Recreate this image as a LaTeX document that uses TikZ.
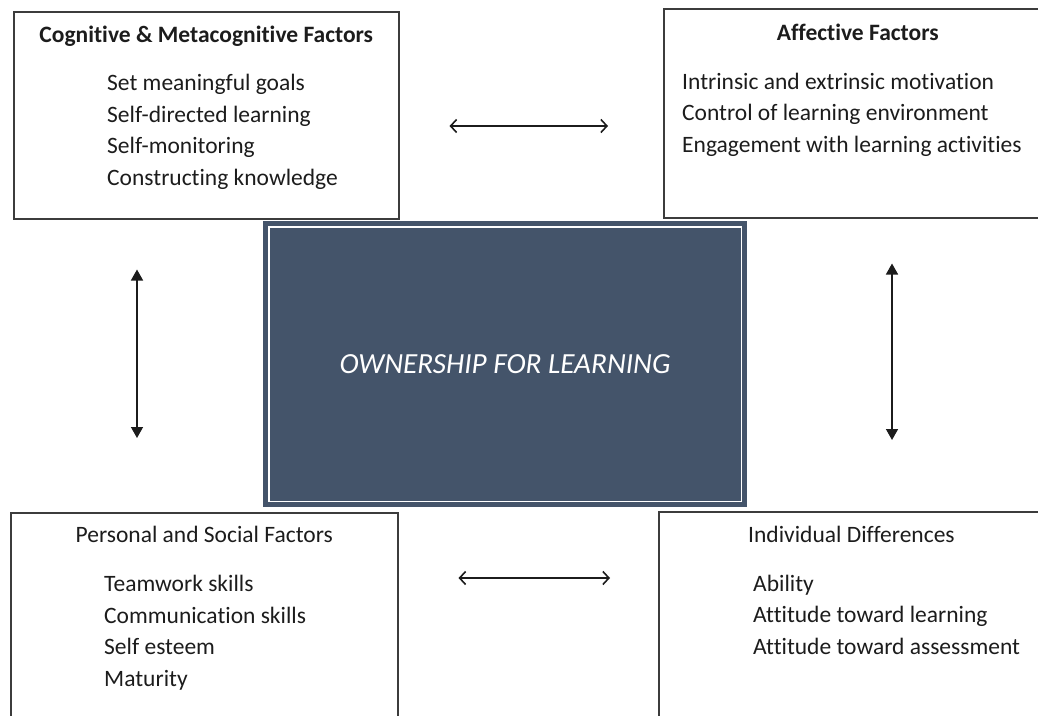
\documentclass[tikz,border=0pt]{standalone}
\usepackage{fontspec}
\setmainfont{Carlito}[Ligatures=NoCommon]
\usepackage{xcolor}
\usepackage{tikz}
\usetikzlibrary{arrows.meta,positioning}

\definecolor{slate}{HTML}{44546A}
\definecolor{ink}{HTML}{1C1C1C}
\definecolor{frame}{HTML}{3C3C3C}

\begin{document}
\begin{tikzpicture}[
  x=1pt, y=-1pt,
  factor/.style={draw=frame, line width=1.5pt, inner sep=0pt, anchor=north west},
  head/.style={anchor=base, inner sep=0pt, text=ink,
               font=\fontsize{23.5pt}{31.5pt}\selectfont},
  items/.style={anchor=base west, inner sep=0pt, align=left, text=ink,
                font=\fontsize{23.5pt}{31.5pt}\selectfont},
  core/.style={fill=slate, draw=slate, line width=5pt, double=white,
               double distance=1.5pt, inner sep=0pt,
               minimum width=472.5pt, minimum height=274.5pt,
               text=white, font=\fontsize{29.2pt}{35pt}\selectfont\itshape},
  harr/.style={{Straight Barb[length=6pt,width=13pt]}-{Straight Barb[length=6pt,width=13pt]},
               line width=1.6pt, draw=ink},
  varr/.style={{Triangle[length=11pt,width=12pt]}-{Triangle[length=11pt,width=12pt]},
               line width=1.5pt, draw=ink}
]
\useasboundingbox (0,0) rectangle (1038,715);
\clip (0,0) rectangle (1038,715);

% four factor boxes
\node[factor, minimum width=385pt, minimum height=207pt] (cmf) at (13,11) {};
\node[factor, minimum width=388pt, minimum height=209pt] (aff) at (663,8) {};
\node[factor, minimum width=387pt, minimum height=215pt] (pers) at (10,512) {};
\node[factor, minimum width=390pt, minimum height=215pt] (indiv) at (658,511) {};

% centre block
\node[core] (own) at (505,364) {OWNERSHIP FOR LEARNING};

% headings
\node[head, font=\fontsize{23.5pt}{31.5pt}\selectfont\bfseries] (cmfhead) at ([yshift=-31pt]cmf.north) {Cognitive \& Metacognitive Factors};
\node[head, font=\fontsize{23.5pt}{31.5pt}\selectfont\bfseries] (affhead) at ([yshift=-32pt]aff.north) {Affective Factors};
\node[head] (pershead) at ([yshift=-30pt]pers.north) {Personal and Social Factors};
\node[head, anchor=base west] (indivhead) at ([shift={(90pt,-31pt)}]indiv.north west) {Individual Differences};

% lists (base = last line)
\node[items] (cmflist) at ([shift={(94pt,-174pt)}]cmf.north west)
  {Set meaningful goals\\Self-directed learning\\Self-monitoring\\Constructing knowledge};
\node[items] (afflist) at ([shift={(19pt,-144pt)}]aff.north west)
  {Intrinsic and extrinsic motivation\\Control of learning environment\\Engagement with learning activities};
\node[items] (perslist) at ([shift={(94pt,-174pt)}]pers.north west)
  {Teamwork skills\\Communication skills\\Self esteem\\Maturity};
\node[items] (indivlist) at ([shift={(95pt,-143pt)}]indiv.north west)
  {Ability\\Attitude toward learning\\Attitude toward assessment};

% two-way links
\draw[harr, shorten <=50pt, shorten >=55pt] ([yshift=-115pt]cmf.north east) -- ([yshift=-118pt]aff.north west);
\draw[harr, shorten <=60pt, shorten >=48pt] ([yshift=-66pt]pers.north east) -- ([yshift=-67pt]indiv.north west);
\draw[varr, shorten <=50pt, shorten >=74pt] ([xshift=124pt]cmf.south west) -- ([xshift=127pt]pers.north west);
\draw[varr, shorten <=45pt, shorten >=71pt] ([xshift=229pt]aff.south west) -- ([xshift=234pt]indiv.north west);
\end{tikzpicture}
\end{document}
